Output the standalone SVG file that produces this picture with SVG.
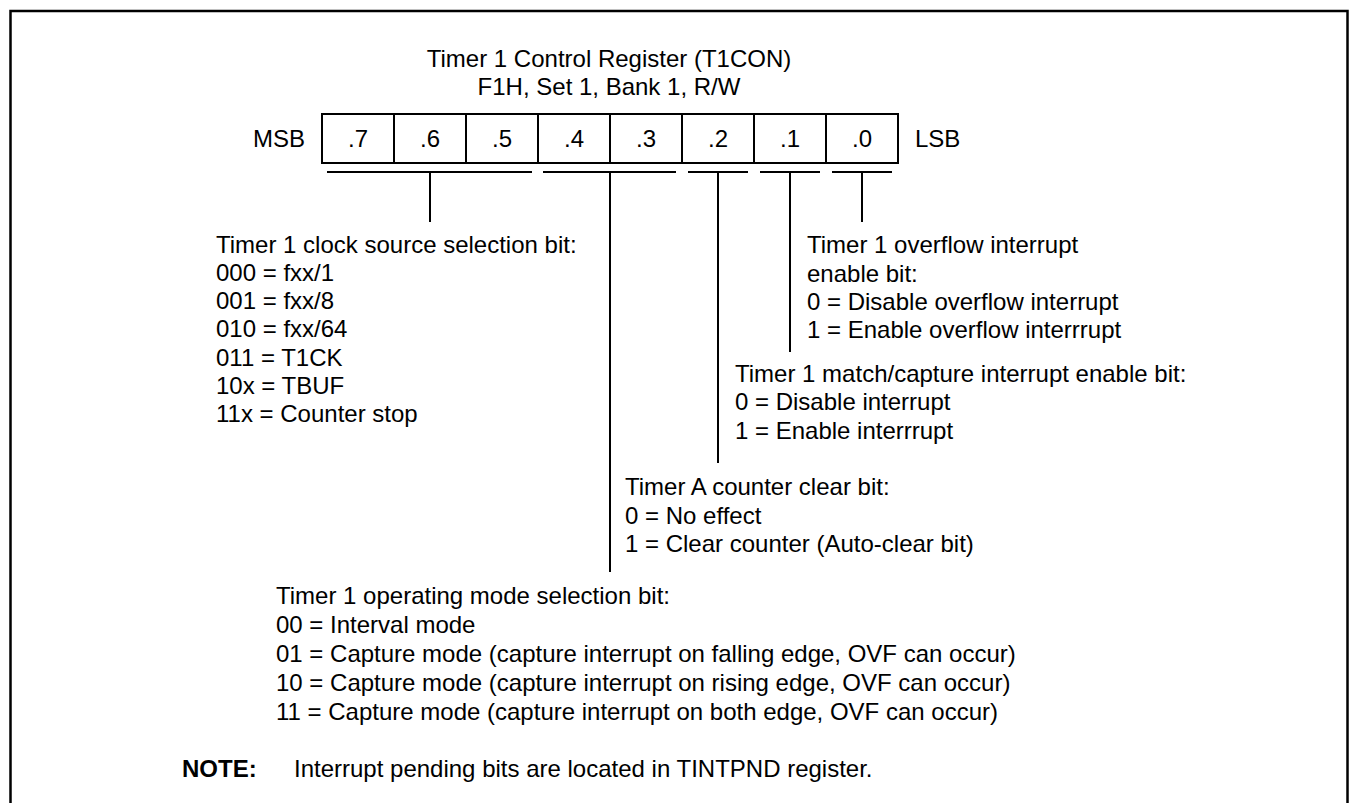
<svg xmlns="http://www.w3.org/2000/svg" width="1352" height="803" viewBox="0 0 1352 803">
<style>
text{font-family:"Liberation Sans",Arial,sans-serif;font-size:24px;fill:#000}
.c{text-anchor:middle}
.b{font-weight:bold}
.ln{stroke:#000;stroke-width:2;fill:none}
.cell{stroke:#000;stroke-width:2;fill:#fff}
</style>
<rect x="10.5" y="11" width="1337" height="820" fill="none" stroke="#000" stroke-width="2.5"/>
<g id="title">
<text class="c" x="609" y="67">Timer 1 Control Register (T1CON)</text>
<text class="c" x="609" y="95">F1H, Set 1, Bank 1, R/W</text>
</g>
<g id="register">
<text x="253" y="147">MSB</text>
<rect class="cell" x="322" y="114" width="576" height="49"/>
<path class="ln" d="M394 114V163M466 114V163M538 114V163M610 114V163M682 114V163M754 114V163M826 114V163"/>
<text class="c" x="358" y="147">.7</text>
<text class="c" x="430" y="147">.6</text>
<text class="c" x="502" y="147">.5</text>
<text class="c" x="574" y="147">.4</text>
<text class="c" x="646" y="147">.3</text>
<text class="c" x="718" y="147">.2</text>
<text class="c" x="790" y="147">.1</text>
<text class="c" x="862" y="147">.0</text>
<text x="915" y="147">LSB</text>
</g>
<g id="connectors">
<path class="ln" d="M327 172H532M430 172V222"/>
<path class="ln" d="M543 172H676M610 172V572"/>
<path class="ln" d="M688 172H748M718 172V463"/>
<path class="ln" d="M760 172H820M790 172V352"/>
<path class="ln" d="M832 172H892M862 172V222"/>
</g>
<g id="clock-source">
<text x="216" y="253">Timer 1 clock source selection bit:</text>
<text x="216" y="281">000 = fxx/1</text>
<text x="216" y="309">001 = fxx/8</text>
<text x="216" y="337">010 = fxx/64</text>
<text x="216" y="365.5">011 = T1CK</text>
<text x="216" y="393.5">10x = TBUF</text>
<text x="216" y="422">11x = Counter stop</text>
</g>
<g id="overflow">
<text x="807" y="253">Timer 1 overflow interrupt</text>
<text x="807" y="281.5">enable bit:</text>
<text x="807" y="310">0 = Disable overflow interrupt</text>
<text x="807" y="338">1 = Enable overflow interrrupt</text>
</g>
<g id="match-capture">
<text x="735" y="382">Timer 1 match/capture interrupt enable bit:</text>
<text x="735" y="410">0 = Disable interrupt</text>
<text x="735" y="438.5">1 = Enable interrrupt</text>
</g>
<g id="counter-clear">
<text x="625" y="495">Timer A counter clear bit:</text>
<text x="625" y="523.5">0 = No effect</text>
<text x="625" y="552">1 = Clear counter (Auto-clear bit)</text>
</g>
<g id="operating-mode">
<text x="276" y="604">Timer 1 operating mode selection bit:</text>
<text x="276" y="633">00 = Interval mode</text>
<text x="276" y="662">01 = Capture mode (capture interrupt on falling edge, OVF can occur)</text>
<text x="276" y="691">10 = Capture mode (capture interrupt on rising edge, OVF can occur)</text>
<text x="276" y="720">11 = Capture mode (capture interrupt on both edge, OVF can occur)</text>
</g>
<g id="note">
<text class="b" x="182" y="777">NOTE:</text>
<text x="294" y="777">Interrupt pending bits are located in TINTPND register.</text>
</g>
</svg>
